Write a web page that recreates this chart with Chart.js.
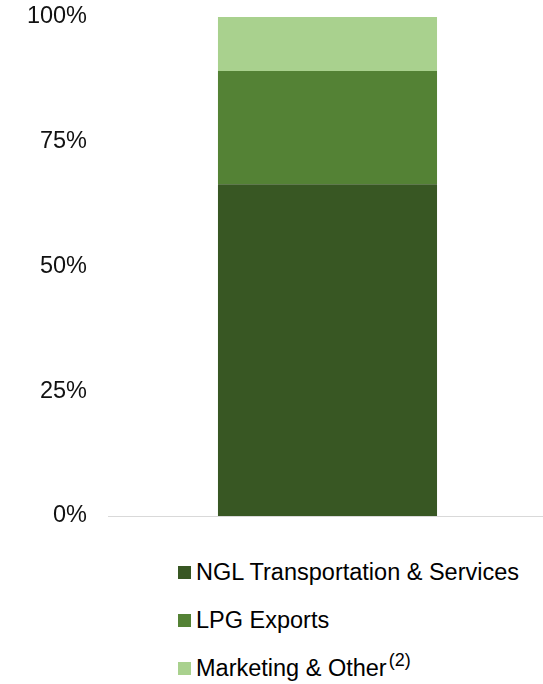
<!DOCTYPE html>
<html>
<head>
<meta charset="utf-8">
<script src="https://cdn.jsdelivr.net/npm/chart.js@4"></script>
<style>
    body { margin: 0; background: #fff; font-family: 'Liberation Sans', Arial, sans-serif; overflow: hidden; }
    #wrap { position: relative; width: 543px; height: 684px; overflow: hidden; }
    #legend { position: absolute; left: 178px; top: 548px; }
    .leg-row { display: flex; align-items: center; height: 48px; font-size: 23.5px; color: #000; }
    .leg-box { width: 13px; height: 13px; margin-right: 5px; flex: none; }
    .leg-row sup { font-size: 18px; position: relative; top: -8px; margin-left: 2px; line-height: 1; }
</style>
</head>
<body>
<div id="wrap">
    <canvas id="mixChart" width="547" height="540"></canvas>
    <div id="legend"></div>
</div>
<script>
const categories = [''];
const seriesLabels = ['NGL Transportation & Services', 'LPG Exports', 'Marketing & Other'];
const seriesNotes = ['', '', '(2)'];
const nglValues = [66.5];
const lpgValues = [22.7];
const marketingValues = [10.8];
const yTicks = [0, 25, 50, 75, 100];

const colors = ['#385723', '#548235', '#a9d18e'];

document.addEventListener('DOMContentLoaded', () => {
    const ctx = document.getElementById('mixChart').getContext('2d');
    const chart = new Chart(ctx, {
        type: 'bar',
        data: {
            labels: categories,
            datasets: [
                { label: seriesLabels[0], data: nglValues, backgroundColor: colors[0] },
                { label: seriesLabels[1], data: lpgValues, backgroundColor: colors[1] },
                { label: seriesLabels[2], data: marketingValues, backgroundColor: colors[2] }
            ]
        },
        options: {
            responsive: false,
            animation: false,
            layout: { padding: { top: 17, bottom: 24, right: 0, left: 0 } },
            datasets: { bar: { barPercentage: 1, categoryPercentage: 0.499 } },
            plugins: {
                legend: { display: false },
                tooltip: { enabled: false }
            },
            scales: {
                x: {
                    stacked: true,
                    ticks: { display: false },
                    grid: { display: false, drawTicks: false },
                    border: { display: true, color: '#d9d9d9', width: 1 },
                    afterFit: (s) => { s.height = 0; }
                },
                y: {
                    stacked: true,
                    min: 0,
                    max: 100,
                    afterBuildTicks: (s) => { s.ticks = yTicks.map(v => ({ value: v })); },
                    ticks: {
                        padding: 21,
                        color: '#111',
                        font: { family: "'Liberation Sans', Arial, sans-serif", size: 23.5 },
                        callback: (v) => v + '%'
                    },
                    grid: { display: false, drawTicks: false },
                    border: { display: false },
                    afterFit: (s) => {
                        s.width = 108;
                        // tick padding should not push the plot down
                        s.paddingTop = 0;
                        s.paddingBottom = 0;
                    }
                }
            }
        }
    });

    // legend stacked vertically, left aligned
    const legend = document.getElementById('legend');
    chart.data.datasets.forEach((ds, i) => {
        const row = document.createElement('div');
        row.className = 'leg-row';
        row.innerHTML = `<span class="leg-box" style="background:${ds.backgroundColor}"></span><span>${ds.label.replace('&', '&amp;')}</span>` +
            (seriesNotes[i] ? `<sup>${seriesNotes[i]}</sup>` : '');
        legend.appendChild(row);
    });
});
</script>
</body>
</html>
